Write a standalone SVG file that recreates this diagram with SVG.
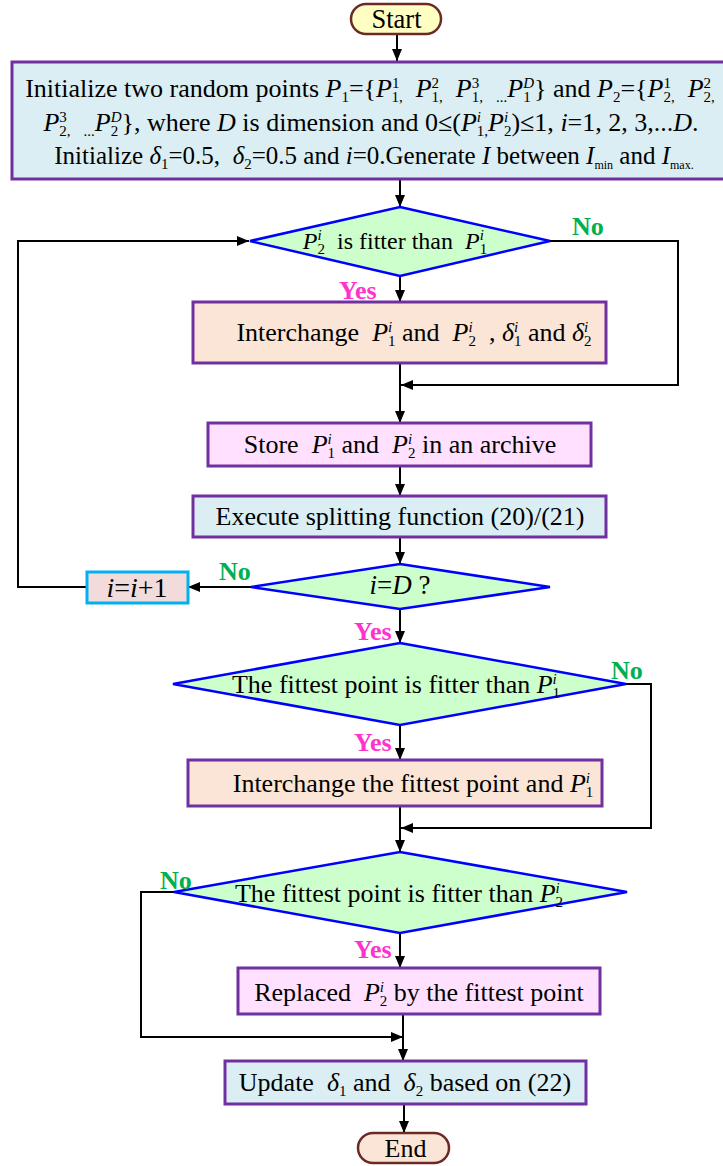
<svg xmlns="http://www.w3.org/2000/svg" width="723" height="1166" viewBox="0 0 723 1166" font-family="'Liberation Serif', serif">
  <style>
    text{font-family:'Liberation Serif',serif}
    .box{stroke:#7030A0;stroke-width:3}
    .blue{fill:#DAEEF3}
    .peach{fill:#FBE5D6}
    .pink{fill:#FFE1FF}
    .dia{fill:#CCFFCC;stroke:#0000FF;stroke-width:2.5}
    .term{stroke:#6B2A26;stroke-width:2.5}
    .t{font-size:26px;fill:#000}
    .i{font-style:italic}
    .sp{font-size:15px;baseline-shift:9px}
    .sb{font-size:15px;baseline-shift:-5px}
    .ss{font-size:12px;baseline-shift:-5px}
    .no{font-weight:bold;font-size:26px;fill:#00B050}
    .yes{font-weight:bold;font-size:26px;fill:#FF33CC}
    .c{fill:none;stroke:#000;stroke-width:2;marker-end:url(#ah)}
  </style>
  <defs>
    <marker id="ah" viewBox="0 0 12 10" refX="12" refY="5" markerWidth="12" markerHeight="10" markerUnits="userSpaceOnUse" orient="auto">
      <path d="M0,0 L12,5 L0,10 z" fill="#000"/>
    </marker>
  </defs>

  <!-- connectors -->
  <g id="connectors">
    <path class="c" d="M397,34 V61"/>
    <path class="c" d="M400,180 V207"/>
    <path class="c" d="M400,276 V302"/>
    <path class="c" d="M550,241 H678 V385 H401"/>
    <path class="c" d="M400,363 V423"/>
    <path class="c" d="M400,466 V496"/>
    <path class="c" d="M400,537 V564"/>
    <path class="c" d="M251,587 H188"/>
    <path class="c" d="M87,587 H18 V241 H249"/>
    <path class="c" d="M400,609 V643"/>
    <path class="c" d="M400,725 V760"/>
    <path class="c" d="M626,684 H651 V828 H401"/>
    <path class="c" d="M400,806 V852"/>
    <path class="c" d="M400,933 V968"/>
    <path class="c" d="M174,892 H141 V1037 H403"/>
    <path class="c" d="M403,1014 V1061"/>
    <path class="c" d="M404,1104 V1133"/>
  </g>

  <!-- Start -->
  <g id="start">
    <rect x="351" y="4" width="90" height="30" rx="15" fill="#FFFFC4" class="term"/>
    <text class="t" x="396.5" y="28" text-anchor="middle" style="font-size:26.5px">Start</text>
  </g>

  <!-- initialisation -->
  <g id="init">
    <rect x="12" y="62" width="722" height="117" class="box blue"/>
    <text class="t" x="370" y="97" text-anchor="middle">Initialize two random points <tspan class="i">P</tspan><tspan class="sb">1</tspan>={<tspan class="i">P</tspan><tspan class="sp">1</tspan><tspan class="sb" dx="-7.5">1,</tspan>&#160; <tspan class="i">P</tspan><tspan class="sp">2</tspan><tspan class="sb" dx="-7.5">1,</tspan>&#160; <tspan class="i">P</tspan><tspan class="sp">3</tspan><tspan class="sb" dx="-7.5">1,</tspan>&#160; <tspan class="sb">...</tspan><tspan class="i">P</tspan><tspan class="sb">1</tspan><tspan class="sp i" dx="-7.5">D</tspan>} and <tspan class="i">P</tspan><tspan class="sb">2</tspan>={<tspan class="i">P</tspan><tspan class="sp">1</tspan><tspan class="sb" dx="-7.5">2,</tspan>&#160; <tspan class="i">P</tspan><tspan class="sp">2</tspan><tspan class="sb" dx="-7.5">2,</tspan></text>
    <text class="t" x="371" y="131" text-anchor="middle"><tspan class="i">P</tspan><tspan class="sp">3</tspan><tspan class="sb" dx="-7.5">2,</tspan>&#160; <tspan class="sb">...</tspan><tspan class="i">P</tspan><tspan class="sb">2</tspan><tspan class="sp i" dx="-7.5">D</tspan>}, where <tspan class="i">D</tspan> is dimension and 0≤(<tspan class="i">P</tspan><tspan class="sp i">i</tspan><tspan class="sb" dx="-4.2">1,</tspan><tspan class="i">P</tspan><tspan class="sp i">i</tspan><tspan class="sb" dx="-4.2">2</tspan>)≤1, <tspan class="i">i</tspan>=1, 2, 3,...<tspan class="i">D</tspan>.</text>
    <text class="t" x="374" y="164" text-anchor="middle" style="font-size:25px">Initialize <tspan class="i">δ</tspan><tspan class="sb">1</tspan>=0.5,&#160; <tspan class="i">δ</tspan><tspan class="sb">2</tspan>=0.5 and <tspan class="i">i</tspan>=0.Generate <tspan class="i">I</tspan> between <tspan class="i">I</tspan><tspan class="ss">min</tspan> and <tspan class="i">I</tspan><tspan class="ss">max.</tspan></text>
  </g>

  <!-- decision: P2 fitter than P1 -->
  <g id="dec1">
    <polygon points="400,207 550,241 400,276 250,241" class="dia"/>
    <text class="t" x="395" y="249" text-anchor="middle" style="font-size:24px"><tspan class="i">P</tspan><tspan class="sp i">i</tspan><tspan class="sb" dx="-4.2">2</tspan>&#160; is fitter than&#160; <tspan class="i">P</tspan><tspan class="sp i">i</tspan><tspan class="sb" dx="-4.2">1</tspan></text>
    <text class="no" x="572" y="235">No</text>
    <text class="yes" x="339" y="299">Yes</text>
  </g>

  <!-- interchange P1, P2 -->
  <g id="swap1">
    <rect x="193" y="302" width="413" height="61" class="box peach"/>
    <text class="t" x="414" y="341" text-anchor="middle">Interchange&#160; <tspan class="i">P</tspan><tspan class="sp i">i</tspan><tspan class="sb" dx="-4.2">1</tspan> and&#160; <tspan class="i">P</tspan><tspan class="sp i">i</tspan><tspan class="sb" dx="-4.2">2</tspan>&#160; , <tspan class="i">δ</tspan><tspan class="sp i">i</tspan><tspan class="sb" dx="-4.2">1</tspan> and <tspan class="i">δ</tspan><tspan class="sp i">i</tspan><tspan class="sb" dx="-4.2">2</tspan></text>
  </g>

  <!-- archive -->
  <g id="store">
    <rect x="208" y="423" width="383" height="43" class="box pink"/>
    <text class="t" x="400" y="453" text-anchor="middle">Store&#160; <tspan class="i">P</tspan><tspan class="sp i">i</tspan><tspan class="sb" dx="-4.2">1</tspan> and&#160; <tspan class="i">P</tspan><tspan class="sp i">i</tspan><tspan class="sb" dx="-4.2">2</tspan> in an archive</text>
  </g>

  <!-- splitting -->
  <g id="split">
    <rect x="193" y="496" width="413" height="41" class="box blue"/>
    <text class="t" x="400" y="525" text-anchor="middle">Execute splitting function (20)/(21)</text>
  </g>

  <!-- decision: i = D -->
  <g id="dec2">
    <polygon points="400,564 550,587 400,609 251,587" class="dia"/>
    <text class="t" x="400" y="594" text-anchor="middle" style="font-size:27px"><tspan class="i">i</tspan>=<tspan class="i">D</tspan> ?</text>
    <text class="no" x="219" y="580">No</text>
    <text class="yes" x="354" y="640">Yes</text>
  </g>

  <!-- increment -->
  <g id="inc">
    <rect x="87" y="572" width="101" height="31" fill="#F2DCDB" stroke="#00B0F0" stroke-width="3"/>
    <text class="t" x="137" y="597" text-anchor="middle" style="font-size:28px"><tspan class="i">i</tspan>=<tspan class="i">i</tspan>+1</text>
  </g>

  <!-- decision: fittest vs P1 -->
  <g id="dec3">
    <polygon points="400,643 626,684 400,725 173,684" class="dia"/>
    <text class="t" x="396" y="693" text-anchor="middle">The fittest point is fitter than <tspan class="i">P</tspan><tspan class="sp i">i</tspan><tspan class="sb" dx="-4.2">1</tspan></text>
    <text class="no" x="611" y="679">No</text>
    <text class="yes" x="354" y="751">Yes</text>
  </g>

  <!-- interchange fittest and P1 -->
  <g id="swap2">
    <rect x="188" y="760" width="414" height="46" class="box peach"/>
    <text class="t" x="413" y="792" text-anchor="middle">Interchange the fittest point and <tspan class="i">P</tspan><tspan class="sp i">i</tspan><tspan class="sb" dx="-4.2">1</tspan></text>
  </g>

  <!-- decision: fittest vs P2 -->
  <g id="dec4">
    <polygon points="400,852 627,892 400,933 174,892" class="dia"/>
    <text class="t" x="399" y="902" text-anchor="middle">The fittest point is fitter than <tspan class="i">P</tspan><tspan class="sp i">i</tspan><tspan class="sb" dx="-4.2">2</tspan></text>
    <text class="no" x="160" y="889">No</text>
    <text class="yes" x="354" y="958">Yes</text>
  </g>

  <!-- replace P2 -->
  <g id="replace">
    <rect x="238" y="968" width="362" height="46" class="box pink"/>
    <text class="t" x="419" y="1001" text-anchor="middle">Replaced&#160; <tspan class="i">P</tspan><tspan class="sp i">i</tspan><tspan class="sb" dx="-4.2">2</tspan> by the fittest point</text>
  </g>

  <!-- update deltas -->
  <g id="update">
    <rect x="225" y="1061" width="361" height="43" class="box blue"/>
    <text class="t" x="405" y="1091" text-anchor="middle">Update&#160; <tspan class="i">δ</tspan><tspan class="sb">1</tspan> and&#160; <tspan class="i">δ</tspan><tspan class="sb">2</tspan> based on (22)</text>
  </g>

  <!-- End -->
  <g id="end">
    <rect x="358" y="1133" width="91" height="30" rx="15" class="term peach"/>
    <text class="t" x="405.5" y="1157" text-anchor="middle">End</text>
  </g>
</svg>
